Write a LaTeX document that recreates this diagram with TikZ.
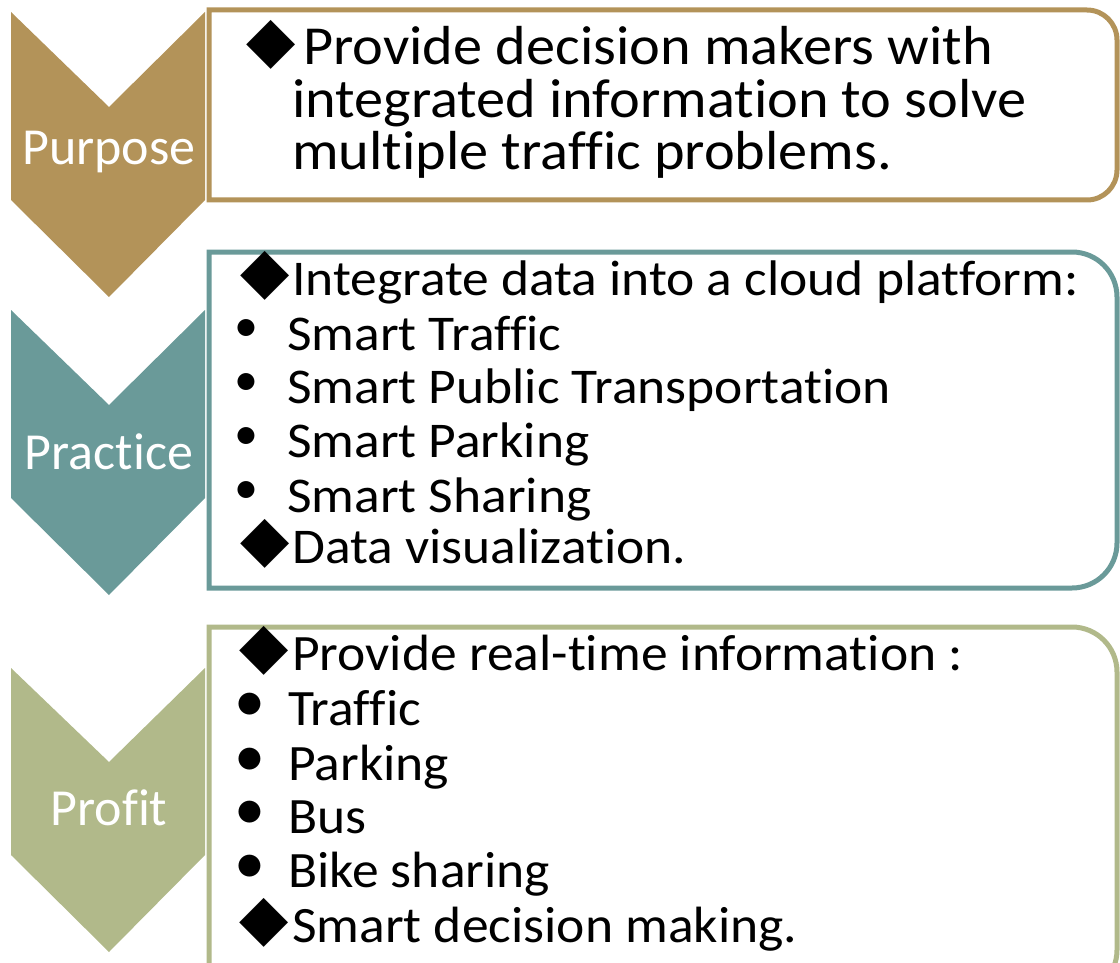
\documentclass[tikz,border=0pt]{standalone}
\usepackage{fontspec}
\setmainfont{Carlito}[Ligatures=NoCommon]
\newfontfamily\dejavu{DejaVu Sans}
\definecolor{cpur}{RGB}{179,147,89}
\definecolor{cpra}{RGB}{106,154,153}
\definecolor{cpro}{RGB}{177,185,138}
\newcommand{\dia}{{\dejavu\fontsize{64}{64}\selectfont ◆}}
\tikzset{
  chev/.style={line join=round},
  box/.style={line width=5pt, fill=white},
  lbl/.style={text=white, font=\fontsize{52}{52}\selectfont, inner sep=0pt},
  tA/.style={anchor=base west, inner sep=0pt, font=\fontsize{55}{55}\selectfont\addfontfeature{FakeStretch=1.06}},
  tB/.style={anchor=base west, inner sep=0pt, font=\fontsize{50}{50}\selectfont\addfontfeature{FakeStretch=1.07}},
  tC/.style={anchor=base west, inner sep=0pt, font=\fontsize{51}{51}\selectfont\addfontfeature{FakeStretch=1.05}},
  dm/.style={inner sep=0pt},
  bl/.style={inner sep=0pt, font=\fontsize{48}{48}\selectfont},
  blC/.style={inner sep=0pt, font=\fontsize{62}{62}\selectfont},
}
\begin{document}
\begin{tikzpicture}[x=1pt,y=-1pt]
\useasboundingbox (0,0) rectangle (1120,963);
% chevrons
\fill[cpur,chev] (11,12) -- (109,107) -- (205,12) -- (205,200) -- (109,297) -- (11,200) -- cycle;
\fill[cpra,chev] (11,310) -- (109,405) -- (205,310) -- (205,498) -- (109,595) -- (11,498) -- cycle;
\fill[cpro,chev] (11,668) -- (109,762) -- (205,668) -- (205,855) -- (109,952) -- (11,855) -- cycle;
% boxes
\draw[box,draw=cpur] (209,10) -- (1087,10) arc[start angle=-90,end angle=0,radius=30] -- (1117,170) arc[start angle=0,end angle=90,radius=30] -- (209,200) -- cycle;
\draw[box,draw=cpra] (209,252) -- (1072,252) arc[start angle=-90,end angle=0,radius=45] -- (1117,543) arc[start angle=0,end angle=90,radius=45] -- (209,588) -- cycle;
\draw[box,draw=cpro] (209,627) -- (1072,627) arc[start angle=-90,end angle=0,radius=45] -- (1117,950) arc[start angle=0,end angle=90,radius=45] -- (209,995) -- cycle;
% labels
\node[lbl] (lpur) at (109,152) {Purpose};
\node[lbl] (lpra) at (109,452) {Practice};
\node[lbl] (lpro) at (109,808) {Profit};
% box 1
\node[dm] (d1) at (271,45) {\dia};
\node[tA] (a1) at (303,65) {Provide decision makers with};
\node[tA] (a2) at (292,118) {integrated information to solve};
\node[tA] (a3) at (292,170) {multiple traffic problems.};
% box 2
\node[dm] (d2) at (265,276) {\dia};
\node[tB] (b1) at (292,295) {Integrate data into a cloud platform:};
\node[bl] (p1) at (246,331) {•};
\node[tB] (b2) at (287,350) {Smart Traffic};
\node[bl] (p2) at (246,385) {•};
\node[tB] (b3) at (287,403) {Smart Public Transportation};
\node[bl] (p3) at (246,439) {•};
\node[tB] (b4) at (287,457) {Smart Parking};
\node[bl] (p4) at (246,493) {•};
\node[tB] (b5) at (287,512) {Smart Sharing};
\node[dm] (d3) at (265,544) {\dia};
\node[tB] (b6) at (292,563) {Data visualization.};
% box 3
\node[dm] (d4) at (264,651) {\dia};
\node[tC] (c1) at (292,670) {Provide real-time information :};
\node[blC] (q1) at (250,707) {•};
\node[tC] (c2) at (288,725) {Traffic};
\node[blC] (q2) at (250,762) {•};
\node[tC] (c3) at (288,780) {Parking};
\node[blC] (q3) at (250,815) {•};
\node[tC] (c4) at (288,833) {Bus};
\node[blC] (q4) at (250,869) {•};
\node[tC] (c5) at (288,887) {Bike sharing};
\node[dm] (d5) at (264,923) {\dia};
\node[tC] (c6) at (292,942) {Smart decision making.};
\end{tikzpicture}
\end{document}
